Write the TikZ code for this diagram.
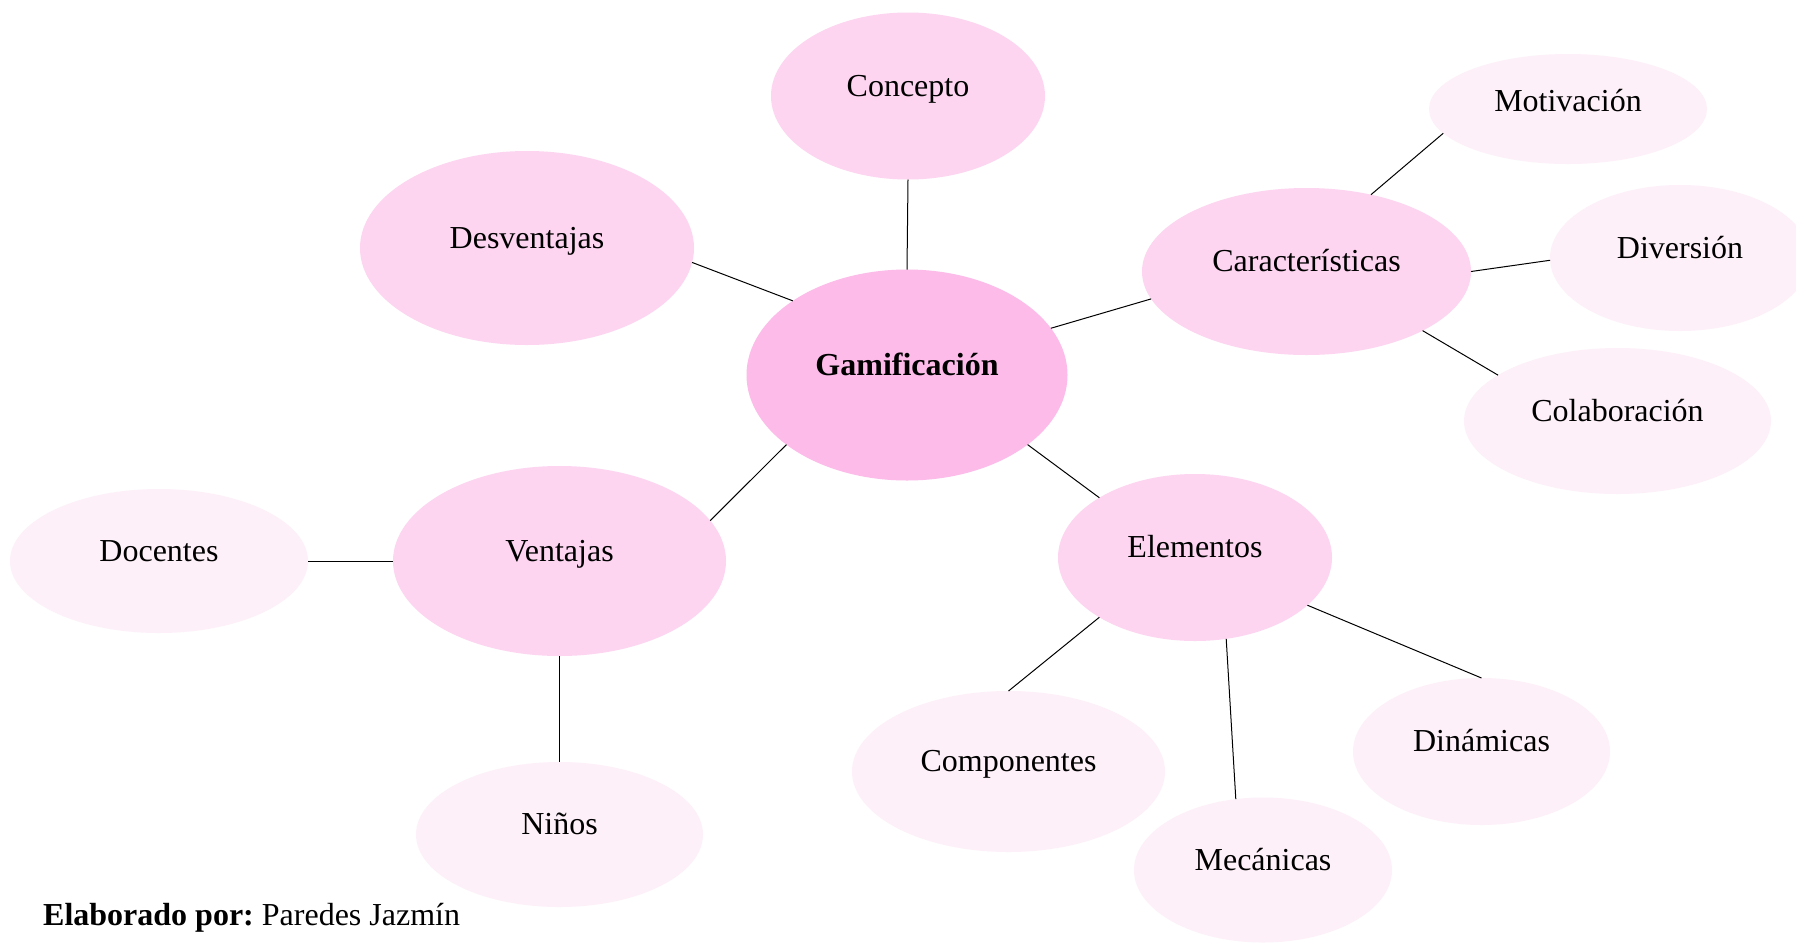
\documentclass[tikz,border=0pt]{standalone}
\usepackage{fontspec}
\setmainfont{Liberation Serif}
\usetikzlibrary{shapes.geometric}
\definecolor{rootc}{RGB}{252,187,232}
\definecolor{midc}{RGB}{253,213,240}
\definecolor{leafc}{RGB}{253,240,248}
\tikzset{
  bub/.style={ellipse, draw=none, inner sep=0pt, outer sep=0pt},
  rootbub/.style={bub, fill=rootc},
  midbub/.style={bub, fill=midc},
  leafbub/.style={bub, fill=leafc},
  txt/.style={yshift=8pt, text height=24pt, text depth=8pt, inner sep=0pt},
  lnk/.style={draw=black, line width=1pt},
}
\frenchspacing
\begin{document}
\begin{tikzpicture}[x=1pt, y=-1pt, font=\fontsize{32}{38}\selectfont]
\clip (0,0) rectangle (1796,943);
\fill[white] (0,0) rectangle (1796,943);
% nodes
\node[rootbub, minimum width=321pt, minimum height=211pt, label={[txt]center:\textbf{Gamificación}}] (g) at (907,375) {};
\node[midbub, minimum width=274pt, minimum height=167pt, label={[txt]center:Concepto}] (con) at (908,96) {};
\node[midbub, minimum width=334pt, minimum height=194pt, label={[txt]center:Desventajas}] (des) at (527,248) {};
\node[midbub, minimum width=329pt, minimum height=167pt, label={[txt]center:Características}] (car) at (1306.5,271.5) {};
\node[leafbub, minimum width=278pt, minimum height=110pt, label={[txt,yshift=-2pt]center:Motivación}] (mot) at (1568,109) {};
\node[leafbub, minimum width=260pt, minimum height=146pt, label={[txt]center:Diversión}] (div) at (1680,258) {};
\node[leafbub, minimum width=307pt, minimum height=146pt, label={[txt]center:Colaboración}] (col) at (1617.5,421) {};
\node[midbub, minimum width=274pt, minimum height=167pt, label={[txt]center:Elementos}] (ele) at (1195,557.5) {};
\node[midbub, minimum width=333pt, minimum height=190pt, label={[txt]center:Ventajas}] (ven) at (559.5,561) {};
\node[leafbub, minimum width=298pt, minimum height=144pt, label={[txt]center:Docentes}] (doc) at (159,561) {};
\node[leafbub, minimum width=287pt, minimum height=145pt, label={[txt]center:Niños}] (nin) at (559.5,834.5) {};
\node[leafbub, minimum width=313pt, minimum height=161pt, label={[txt]center:Componentes}] (com) at (1008.5,771.5) {};
\node[leafbub, minimum width=258pt, minimum height=145pt, label={[txt]center:Mecánicas}] (mec) at (1263,870) {};
\node[leafbub, minimum width=257pt, minimum height=147pt, label={[txt]center:Dinámicas}] (din) at (1481.5,751.5) {};
% connectors
\draw[lnk] (con.south) -- (g.north);
\draw[lnk] (des.-5) -- (g.147);
\draw[lnk] (g.18) -- (car.190);
\draw[lnk] (g.210) -- (ven.15);
\draw[lnk] (g.-30) -- (ele.148);
\draw[lnk] (car.50) -- (mot.191);
\draw[lnk] (car.0) -- (div.181);
\draw[lnk] (car.-27) -- (col.159);
\draw[lnk] (ven.west) -- (doc.east);
\draw[lnk] (ven.south) -- (nin.north);
\draw[lnk] (ele.212) -- (com.north);
\draw[lnk] (ele.-69) -- (mec.111);
\draw[lnk] (ele.-23) -- (din.north);
% footer
\node[anchor=base west, inner sep=0pt] (foot) at (43,925) {\textbf{Elaborado por:} Paredes Jazmín};
\end{tikzpicture}
\end{document}
